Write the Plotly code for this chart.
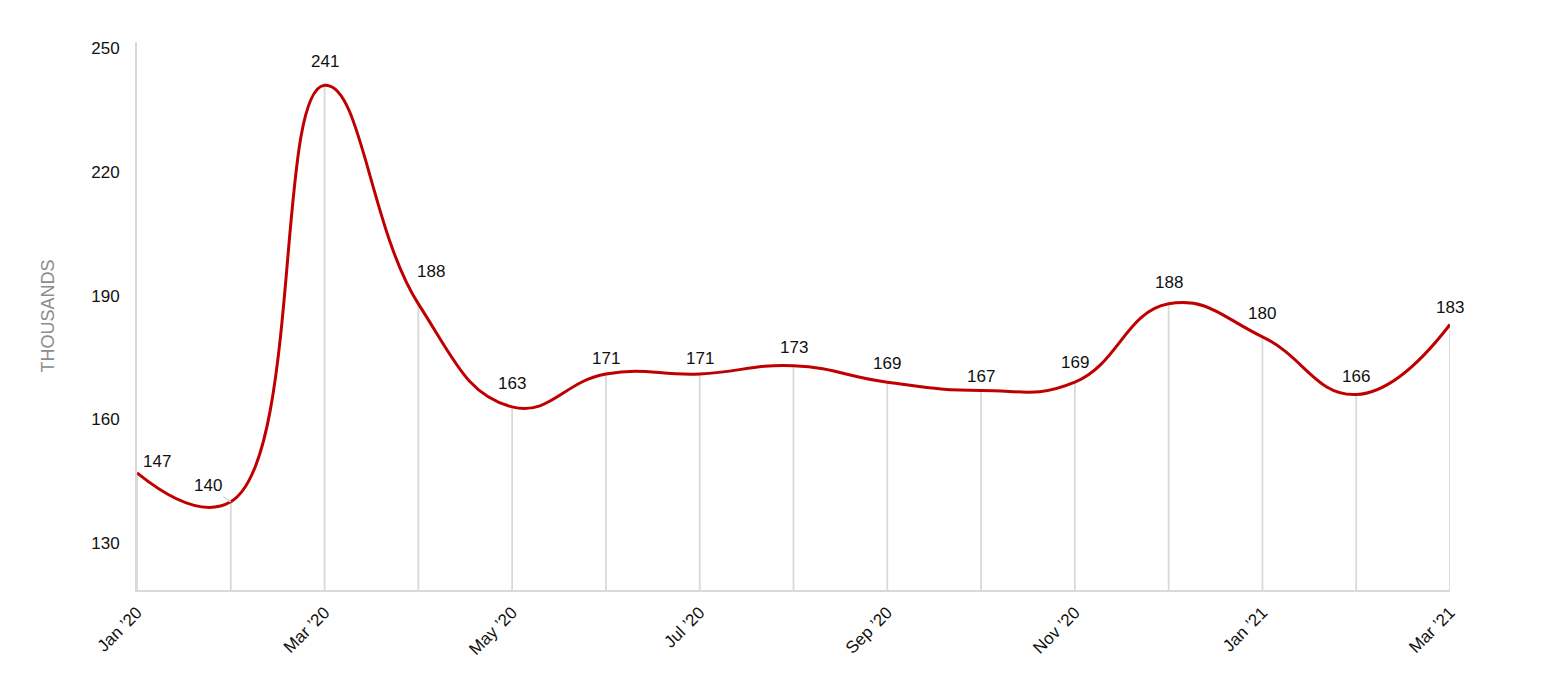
import plotly.graph_objects as go

months = ["Jan ’20", "Feb ’20", "Mar ’20", "Apr ’20", "May ’20", "Jun ’20", "Jul ’20",
          "Aug ’20", "Sep ’20", "Oct ’20", "Nov ’20", "Dec ’20", "Jan ’21", "Feb ’21", "Mar ’21"]
values = [147, 140, 241, 188, 163, 171, 171, 173, 169, 167, 169, 188, 180, 166, 183]
tick_labels = ["Jan ’20", "Mar ’20", "May ’20", "Jul ’20", "Sep ’20", "Nov ’20", "Jan ’21", "Mar ’21"]
y_ticks = [130, 160, 190, 220, 250]

# label offsets (pixels) — styling only
label_dx = [20, 0, 0, 13, 0, 0, 0, 0, 0, 0, 0, 0, 0, 0, 0]
label_dy = [11, 0, 24, 32, 23, 15, 15, 18, 19, 14, 20, 21, 23, 18, 17]

x = list(range(len(months)))
y_min = 118.6
y_max = 251.5

fig = go.Figure()

# drop lines from each point to the axis
fig.add_trace(go.Scatter(
    x=x, y=values, mode="markers",
    marker=dict(size=0.1, color="rgba(0,0,0,0)"),
    error_y=dict(type="data", symmetric=False, array=[0] * len(values),
                 arrayminus=[v - y_min for v in values],
                 color="#d9d9d9", thickness=1.8, width=0),
    hoverinfo="skip", showlegend=False,
))

fig.add_trace(go.Scatter(
    x=x, y=values, mode="lines",
    line=dict(color="#c00000", width=3, shape="spline", smoothing=1.3),
    showlegend=False,
))

font = dict(family="Liberation Sans, Arial, sans-serif", size=17, color="#111111")

annotations = []
for i, v in enumerate(values):
    if i == 1:
        annotations.append(dict(
            x=i, y=v, text=str(v), showarrow=True, arrowhead=0, arrowwidth=1.5,
            arrowcolor="#d9d9d9", ax=-23, ay=-16, font=font, standoff=0,
        ))
    else:
        annotations.append(dict(
            x=i, y=v, text=str(v), showarrow=False, xshift=label_dx[i],
            yshift=label_dy[i], font=font,
        ))

fig.update_layout(
    width=1564, height=698,
    margin=dict(l=129, r=122, t=34, b=116),
    plot_bgcolor="white", paper_bgcolor="white",
    font=font,
    annotations=annotations,
    xaxis=dict(
        range=[0, len(months) - 1],
        tickvals=[months.index(t) for t in tick_labels],
        ticktext=tick_labels, tickangle=-45,
        showgrid=False, zeroline=False,
        showline=True, linecolor="#d9d9d9", linewidth=2,
        ticks="outside", ticklen=4, tickcolor="rgba(0,0,0,0)",
        tickfont=font,
    ),
    yaxis=dict(
        range=[y_min, y_max], tickvals=y_ticks,
        showgrid=False, zeroline=False,
        showline=True, linecolor="#d9d9d9", linewidth=2,
        ticks="outside", ticklen=12, tickcolor="rgba(0,0,0,0)",
        tickfont=font,
        title=dict(text="THOUSANDS", standoff=32,
                   font=dict(family="Liberation Sans, Arial, sans-serif", size=18, color="#8c8c8c")),
    ),
)

fig.write_html("out.html")
